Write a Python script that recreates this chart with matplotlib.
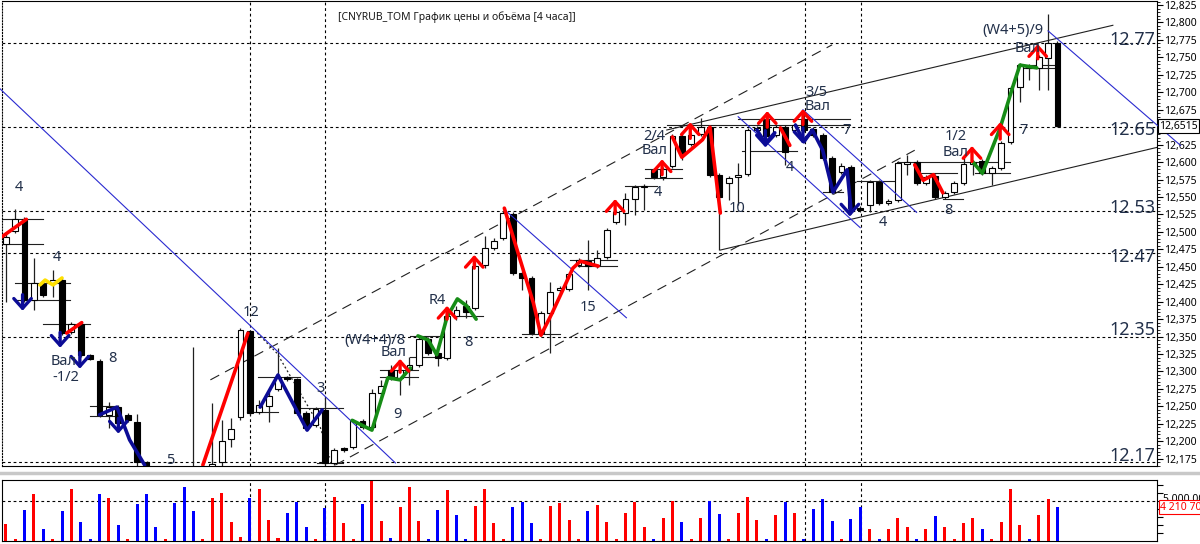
import numpy as np
import matplotlib.pyplot as plt
from matplotlib.ticker import MultipleLocator, FuncFormatter

plt.rcParams['font.family'] = ['Noto Sans', 'DejaVu Sans']

# 4-hour candles, left to right
opens = [
    12.483, 12.501, 12.518, 12.402, 12.425, 12.427, 12.431, 12.357, 12.368, 12.324,
    12.315, 12.237, 12.249, 12.237, 12.227, 12.170, 12.155, 12.130, 12.140, 12.110,
    12.120, 12.130, 12.150, 12.170, 12.203, 12.235, 12.358, 12.242, 12.250, 12.275,
    12.292, 12.289, 12.240, 12.223, 12.245, 12.169, 12.190, 12.192, 12.229, 12.220,
    12.269, 12.302, 12.290, 12.303, 12.309, 12.346, 12.326, 12.319, 12.380, 12.394,
    12.391, 12.453, 12.477, 12.491, 12.526, 12.441, 12.434, 12.355, 12.384, 12.417,
    12.418, 12.453, 12.458, 12.453, 12.464, 12.514, 12.527, 12.547, 12.564, 12.589,
    12.579, 12.594, 12.637, 12.626, 12.640, 12.650, 12.582, 12.570, 12.579, 12.583,
    12.646, 12.660, 12.639, 12.650, 12.646, 12.662, 12.647, 12.639, 12.606, 12.586,
    12.593, 12.534, 12.539, 12.571, 12.541, 12.546, 12.597, 12.600, 12.570, 12.580,
    12.550, 12.557, 12.570, 12.597, 12.602, 12.584, 12.592, 12.629, 12.708, 12.735,
    12.735, 12.749, 12.771]
closes = [
    12.493, 12.518, 12.402, 12.427, 12.410, 12.431, 12.355, 12.368, 12.324, 12.318,
    12.237, 12.249, 12.226, 12.230, 12.170, 12.155, 12.130, 12.140, 12.110, 12.120,
    12.140, 12.150, 12.168, 12.200, 12.217, 12.359, 12.240, 12.252, 12.265, 12.292,
    12.289, 12.240, 12.219, 12.246, 12.169, 12.187, 12.187, 12.229, 12.220, 12.269,
    12.279, 12.290, 12.302, 12.310, 12.346, 12.326, 12.319, 12.380, 12.388, 12.385,
    12.451, 12.477, 12.487, 12.527, 12.441, 12.434, 12.355, 12.384, 12.414, 12.420,
    12.440, 12.460, 12.451, 12.463, 12.503, 12.528, 12.547, 12.564, 12.566, 12.579,
    12.590, 12.637, 12.613, 12.639, 12.650, 12.582, 12.550, 12.577, 12.582, 12.646,
    12.649, 12.637, 12.650, 12.614, 12.653, 12.646, 12.639, 12.606, 12.557, 12.594,
    12.534, 12.531, 12.571, 12.541, 12.544, 12.599, 12.600, 12.570, 12.579, 12.550,
    12.556, 12.570, 12.597, 12.600, 12.584, 12.592, 12.627, 12.706, 12.739, 12.738,
    12.751, 12.771, 12.6515]
highs = [
    12.497, 12.533, 12.521, 12.463, 12.428, 12.445, 12.434, 12.371, 12.371, 12.325,
    12.318, 12.256, 12.252, 12.240, 12.239, 12.172, 12.160, 12.150, 12.150, 12.130,
    12.335, 12.160, 12.255, 12.230, 12.233, 12.362, 12.359, 12.259, 12.270, 12.333,
    12.293, 12.290, 12.243, 12.249, 12.263, 12.190, 12.192, 12.232, 12.232, 12.275,
    12.288, 12.309, 12.305, 12.321, 12.351, 12.349, 12.329, 12.382, 12.394, 12.402,
    12.457, 12.494, 12.491, 12.530, 12.528, 12.444, 12.437, 12.387, 12.428, 12.422,
    12.443, 12.463, 12.488, 12.474, 12.506, 12.531, 12.556, 12.567, 12.569, 12.592,
    12.593, 12.640, 12.640, 12.642, 12.663, 12.653, 12.584, 12.580, 12.599, 12.649,
    12.652, 12.663, 12.653, 12.653, 12.656, 12.672, 12.650, 12.642, 12.609, 12.599,
    12.596, 12.537, 12.574, 12.574, 12.547, 12.602, 12.610, 12.603, 12.582, 12.583,
    12.559, 12.573, 12.607, 12.603, 12.604, 12.594, 12.630, 12.709, 12.742, 12.740,
    12.753, 12.812, 12.774]
lows = [
    12.400, 12.498, 12.400, 12.388, 12.407, 12.407, 12.352, 12.354, 12.321, 12.316,
    12.235, 12.219, 12.223, 12.227, 12.150, 12.140, 12.120, 12.110, 12.100, 12.090,
    12.100, 12.110, 12.140, 12.165, 12.192, 12.230, 12.237, 12.239, 12.227, 12.272,
    12.286, 12.237, 12.216, 12.220, 12.166, 12.166, 12.184, 12.189, 12.217, 12.217,
    12.259, 12.288, 12.266, 12.280, 12.306, 12.324, 12.308, 12.316, 12.374, 12.377,
    12.388, 12.448, 12.474, 12.488, 12.438, 12.417, 12.352, 12.351, 12.326, 12.414,
    12.415, 12.450, 12.417, 12.448, 12.461, 12.511, 12.510, 12.524, 12.531, 12.576,
    12.574, 12.592, 12.603, 12.623, 12.637, 12.579, 12.474, 12.546, 12.539, 12.580,
    12.643, 12.634, 12.636, 12.596, 12.643, 12.643, 12.636, 12.603, 12.554, 12.583,
    12.531, 12.528, 12.528, 12.539, 12.539, 12.543, 12.582, 12.567, 12.567, 12.547,
    12.547, 12.554, 12.567, 12.582, 12.582, 12.567, 12.589, 12.626, 12.686, 12.718,
    12.703, 12.703, 12.650]

# volume in millions, r = red bar, b = blue bar
volumes = [
    2.1, 0.3, 3.9, 5.9, 1.5, 0.3, 3.75, 6.5, 2.4, 0.3,
    5.8, 5.4, 2.0, 0.3, 4.6, 5.9, 1.7, 0.3, 4.7, 6.7,
    3.75, 0.3, 5.4, 6.0, 2.3, 0.5, 5.3, 6.5, 2.6, 0.4,
    3.5, 4.8, 1.7, 0.3, 4.1, 5.5, 2.2, 0.3, 4.6, 7.4,
    2.5, 0.4, 4.2, 6.7, 2.5, 0.3, 3.9, 6.3, 3.2, 0.3,
    4.3, 6.5, 2.2, 0.3, 4.2, 4.8, 2.2, 0.3, 4.4, 4.7,
    2.6, 0.3, 3.7, 4.5, 2.3, 0.3, 3.5, 4.9, 1.7, 0.3,
    2.9, 5.0, 2.3, 0.3, 2.9, 5.0, 3.3, 0.3, 3.5, 5.5,
    2.6, 0.3, 3.2, 4.9, 3.5, 0.3, 4.0, 5.2, 2.5, 0.3,
    2.7, 4.2, 1.5, 0.3, 1.5, 2.9, 1.7, 0.3, 1.5, 3.1,
    1.7, 0.2, 2.2, 2.8, 1.5, 0.3, 2.4, 6.5, 2.0, 0.3,
    3.2, 5.2, 4.21]
vol_colors = ("rrbrbrbrbb" "brbrbbbrbb" "brrrrrbrrr" "bbbrbrrrbr" "rbrrrbbrbb"
              "rrrrbbbrrr" "rrbrrrrrrb" "rrbrrbbrrr" "rbrbrbbbbr" "bbrbrrrbrb"
              "rrrrbrrrrb" "rrb")

levels = [12.77, 12.65, 12.53, 12.47, 12.35, 12.17]
level_texts = ['12.77', '12.65', '12.53', '12.47', '12.35', '12.17']
level_text_y = [12.775, 12.646, 12.534, 12.464, 12.359, 12.179]
vgrid = [26.0, 34.0, 85.1, 91.1]

# drawn lines (bar index, price)
blue_lines = [(-0.6, 12.705, 41.5, 12.169), (53.2, 12.531, 66.1, 12.377),
              (78.0, 12.665, 91.0, 12.506), (84.9, 12.675, 97.0, 12.528),
              (111.0, 12.788, 125.1, 12.624)]
dashed_lines = [(21.8, 12.288, 88.0, 12.768), (35.1, 12.166, 96.8, 12.617)]
black_lines = [(70.4, 12.646, 117.9, 12.796), (76.1, 12.474, 122.9, 12.622)]
dotted_i = [26.8, 28.9, 33.5, 34.5]
dotted_p = [12.355, 12.326, 12.220, 12.177]

hsegs = [(-0.6, 4.0, 12.518), (-0.6, 4.0, 12.483), (1.0, 6.85, 12.427), (1.0, 6.85, 12.402),
         (4.0, 9.0, 12.368), (9.0, 11.9, 12.251), (9.0, 11.9, 12.236), (26.9, 31.3, 12.292),
         (25.7, 29.0, 12.242), (31.3, 35.9, 12.248), (33.2, 35.9, 12.169), (43.1, 46.6, 12.351),
         (43.1, 46.6, 12.321), (48.1, 50.8, 12.380), (39.9, 43.9, 12.302), (39.9, 43.9, 12.292),
         (55.0, 59.0, 12.354), (60.1, 65.1, 12.460), (60.9, 65.1, 12.451), (66.0, 69.4, 12.566),
         (68.1, 72.0, 12.577), (68.1, 72.0, 12.590), (70.4, 89.9, 12.653), (78.0, 89.9, 12.662),
         (78.4, 84.3, 12.616), (87.0, 89.2, 12.557), (90.7, 94.9, 12.573), (94.9, 106.9, 12.600),
         (97.0, 101.3, 12.584), (99.8, 101.9, 12.547), (103.2, 106.9, 12.584),
         (107.8, 112.0, 12.739), (107.8, 112.0, 12.735)]

zz_red = [([-0.4, 2.2], [12.493, 12.518]),
          ([6.5, 8.1], [12.355, 12.370]),
          ([21.0, 25.8], [12.166, 12.355]),
          ([53.1, 56.2, 57.0, 58.2, 60.4, 61.2, 63.1],
           [12.534, 12.398, 12.352, 12.384, 12.448, 12.458, 12.451]),
          ([71.0, 72.0, 74.2, 75.0, 76.1], [12.636, 12.607, 12.632, 12.650, 12.527]),
          ([82.5, 83.5], [12.649, 12.624]),
          ([96.8, 97.7, 98.8, 99.8], [12.596, 12.574, 12.582, 12.556])]
zz_blue = [([10.0, 11.85, 13.2, 14.8], [12.238, 12.249, 12.202, 12.166]),
           ([27.1, 29.0, 32.1, 33.7], [12.249, 12.295, 12.216, 12.245]),
           ([80.0, 80.9, 81.9], [12.646, 12.627, 12.642]),
           ([84.1, 85.0, 85.9, 87.0, 88.1, 89.6, 90.0],
            [12.653, 12.629, 12.646, 12.617, 12.557, 12.589, 12.534])]
zz_green = [([36.9, 39.0, 40.7, 42.0, 43.1], [12.230, 12.216, 12.291, 12.288, 12.305]),
            ([43.9, 45.0, 45.9, 47.0, 48.1, 49.1, 50.1],
             [12.351, 12.345, 12.324, 12.378, 12.404, 12.394, 12.375]),
            ([103.0, 104.0, 105.9, 107.2, 108.0, 109.8],
             [12.600, 12.584, 12.649, 12.706, 12.739, 12.735])]
zz_yellow = [([3.65, 4.2, 5.04, 6.0], [12.424, 12.431, 12.424, 12.434])]

up_arrows = [(42.0, 12.299, 12.318), (47.0, 12.375, 12.394), (49.9, 12.448, 12.467),
             (64.9, 12.526, 12.547), (69.9, 12.582, 12.604), (72.9, 12.634, 12.657),
             (81.1, 12.650, 12.673), (84.9, 12.654, 12.676), (102.9, 12.601, 12.623),
             (105.9, 12.633, 12.657), (109.9, 12.748, 12.769)]
down_arrows = [(1.8, 12.410, 12.387), (5.8, 12.356, 12.334), (7.9, 12.327, 12.304),
               (12.0, 12.233, 12.211), (80.9, 12.645, 12.621), (84.9, 12.649, 12.626),
               (89.9, 12.546, 12.522)]

labels = [("4", 1.4, 12.564), ("4", 5.5, 12.464), ("8", 11.4, 12.319),
          ("Вал", 6.2, 12.314), ("-1/2", 6.4, 12.291), ("5", 17.5, 12.172),
          ("12", 26.1, 12.385), ("3", 33.5, 12.276), ("9", 41.7, 12.238),
          ("(W4+4)/8", 39.3, 12.345), ("Вал", 41.3, 12.327), ("R4", 46.0, 12.402),
          ("8", 49.3, 12.341), ("15", 62.0, 12.392), ("4", 69.5, 12.556),
          ("2/4", 69.1, 12.636), ("Вал", 69.1, 12.617), ("10", 77.9, 12.534),
          ("3/5", 86.3, 12.700), ("Вал", 86.5, 12.679), ("4", 83.5, 12.592),
          ("7", 89.5, 12.645), ("4", 93.4, 12.513), ("1/2", 101.2, 12.637),
          ("Вал", 101.2, 12.614), ("8", 100.4, 12.531), ("7", 108.4, 12.645),
          ("(W4+5)/9", 107.3, 12.789), ("Вал", 108.8, 12.763)]

txt_color = '#22304a'
grid_ls = (0, (2.5, 2.5))

fig = plt.figure(figsize=(12, 5.44), dpi=100)
ax = fig.add_axes([2/1200, 1 - 466/544, 1155/1200, 465/544])
axv = fig.add_axes([2/1200, 3/544, 1155/1200, 61/544])

o = np.array(opens)
c = np.array(closes)
h = np.array(highs)
l = np.array(lows)
idx = np.arange(len(o))

# grid / levels
for lv in levels:
    ax.axhline(lv, color='black', lw=0.8, ls=grid_ls, zorder=1)
for v in vgrid:
    ax.axvline(v, color='black', lw=0.8, ls=grid_ls, zorder=1)
    axv.axvline(v, color='black', lw=0.8, ls=grid_ls, zorder=1)

for i0, i1, p in hsegs:
    ax.plot([i0, i1], [p, p], color='#202020', lw=0.8, zorder=2)

# candles
ax.vlines(idx, l, h, color='#202020', lw=0.9, zorder=3)
up = c >= o
bot = np.minimum(o, c)
hgt = np.maximum(np.abs(c - o), 0.0015)
ax.bar(idx[up], hgt[up], bottom=bot[up], width=0.62, facecolor='white',
       edgecolor='black', lw=0.8, zorder=4)
ax.bar(idx[~up], hgt[~up], bottom=bot[~up], width=0.62, facecolor='black',
       edgecolor='black', lw=0.8, zorder=4)

# trend lines
for i0, p0, i1, p1 in blue_lines:
    ax.plot([i0, i1], [p0, p1], color='#2a2ad0', lw=0.8, zorder=5, clip_on=False)
for i0, p0, i1, p1 in dashed_lines:
    ax.plot([i0, i1], [p0, p1], color='#202020', lw=0.8, ls=(0, (9, 6)), zorder=2)
for i0, p0, i1, p1 in black_lines:
    ax.plot([i0, i1], [p0, p1], color='#202020', lw=0.8, zorder=2)
ax.plot(dotted_i, dotted_p, color='#202020', lw=0.9, ls=(0, (1.5, 2)), zorder=2)

# wave zigzags
for group, col in [(zz_red, '#ff0000'), (zz_blue, '#0c0c96'),
                   (zz_green, '#168c16'), (zz_yellow, '#ffe000')]:
    for xs, ps in group:
        ax.plot(xs, ps, color=col, lw=2.6, zorder=6, solid_capstyle='round')

for i, p0, p1 in up_arrows:
    ax.annotate('', xy=(i, p1), xytext=(i, p0),
                arrowprops=dict(arrowstyle='->,head_length=0.5,head_width=0.45',
                                color='#ff0000', lw=2.4,
                                mutation_scale=14, shrinkA=0, shrinkB=0), zorder=7)
for i, p0, p1 in down_arrows:
    ax.annotate('', xy=(i, p1), xytext=(i, p0),
                arrowprops=dict(arrowstyle='->,head_length=0.5,head_width=0.45',
                                color='#0c0c96', lw=2.4,
                                mutation_scale=14, shrinkA=0, shrinkB=0), zorder=7)

for t, i, p in labels:
    ax.text(i, p, t, fontsize=10.5, color=txt_color, ha='center', va='center', zorder=8)

for t, p in zip(level_texts, level_text_y):
    ax.text(122.4, p, t, fontsize=13, color=txt_color, ha='right', va='center', zorder=8)

ax.text(0.291, 0.966, '[CNYRUB_TOM График цены и объёма [4 часа]]', transform=ax.transAxes,
        fontsize=7.5, color='#1a1a1a', ha='left', va='center')

ax.set_xlim(-0.39, 122.6)
ax.set_ylim(12.1646, 12.8308)
ax.set_xticks([])
ax.yaxis.tick_right()
ax.set_yticks(np.arange(12.175, 12.826, 0.025))
ax.yaxis.set_major_formatter(FuncFormatter(lambda v, _: f'{v:.3f}'.replace('.', ',')))
ax.yaxis.set_minor_locator(MultipleLocator(0.005))
ax.tick_params(axis='y', which='major', length=4, labelsize=7.5, pad=1)
ax.tick_params(axis='y', which='minor', length=2)
ax.spines['left'].set_linestyle(':')
ax.text(1.002, 12.6515, '12,6515', transform=ax.get_yaxis_transform(), fontsize=7.5,
        va='center', ha='left', clip_on=False, zorder=10,
        bbox=dict(boxstyle='square,pad=0.15', fc='white', ec='black', lw=0.8))

# volume panel
vol = np.array(volumes) * 1e6
cols = ['#ff0000' if ch == 'r' else '#0000ff' for ch in vol_colors]
axv.bar(idx, vol, width=0.32, color=cols, zorder=3)
axv.axhline(5e6, color='black', lw=0.8, ls=grid_ls, zorder=1)
axv.set_xlim(-0.39, 122.6)
axv.set_ylim(0, 7.58e6)
axv.set_xticks([])
axv.yaxis.tick_right()
axv.set_yticks(np.arange(1e6, 7.1e6, 1e6))
axv.set_yticklabels([])
axv.tick_params(axis='y', length=4)
axv.text(1.005, 5.2e6, '5 000 000', transform=axv.get_yaxis_transform(), fontsize=7.5,
         va='center', ha='left', clip_on=False)
axv.text(1.003, 4.21e6, '4 210 706', transform=axv.get_yaxis_transform(), fontsize=7.5,
         color='#ff0000', va='center', ha='left', clip_on=False, zorder=10,
         bbox=dict(boxstyle='square,pad=0.15', fc='white', ec='#ff0000', lw=0.8))

fig.add_artist(plt.Line2D([0, 1], [1 - 473/544] * 2, color='#c8c8c8', lw=2.5,
                          transform=fig.transFigure))

fig.savefig('out.png', dpi=100)
